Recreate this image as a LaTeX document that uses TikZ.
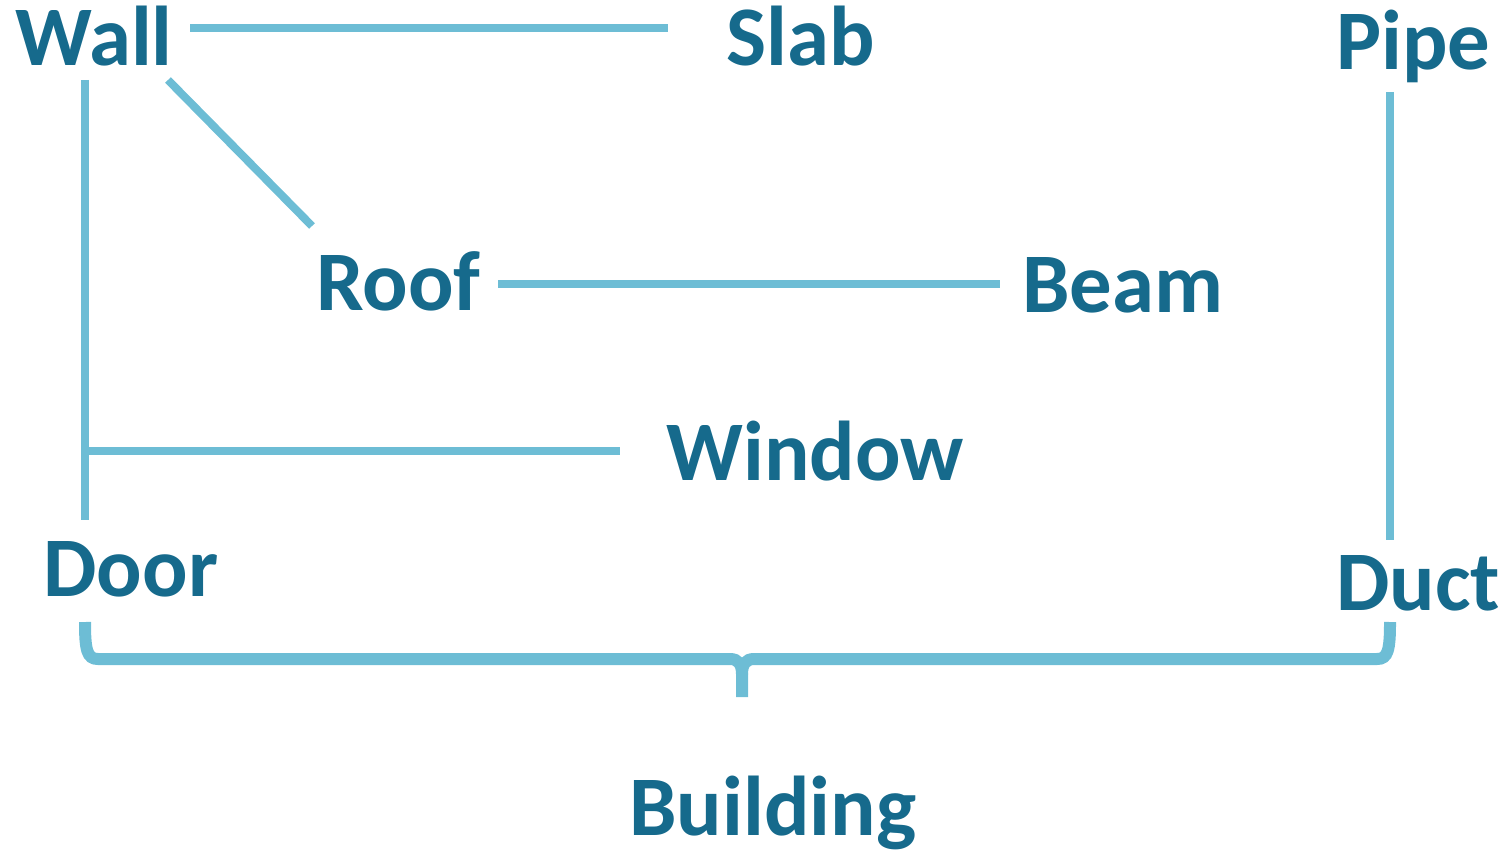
\documentclass[tikz,border=0pt]{standalone}
\usepackage{fontspec}
\setmainfont{Carlito}
\usepackage{xcolor}
\usepackage{tikz}

\definecolor{labelblue}{HTML}{166A8C}
\definecolor{linkblue}{HTML}{6DBDD5}

\begin{document}
\begin{tikzpicture}[x=0.5pt, y=-0.5pt,
                    part/.style={anchor=base west, inner sep=0pt,
                    text=labelblue,
                    font=\fontsize{42.4}{48}\selectfont\bfseries},
                    link/.style={draw=linkblue, line width=4pt},
                    brace/.style={draw=linkblue, line width=6pt}]
    \useasboundingbox (0,0) rectangle (1508,855);
    % labels
    \node[part] (wall)     at (15,66)   {Wall};
    \node[part] (slab)     at (726,66)  {Slab};
    \node[part] (pipe)     at (1336,70) {Pipe};
    \node[part] (roof)     at (316,311) {Roof};
    \node[part] (beam)     at (1022,313) {Beam};
    \node[part] (window)   at (666,480) {Window};
    \node[part] (door)     at (43,596)  {Door};
    \node[part] (duct)     at (1336,610) {Duct};
    \node[part] (building) at (629,835) {Building};
    % connector ends
    \coordinate (wall-r)   at (190,28);
    \coordinate (slab-l)   at (668,28);
    \coordinate (wall-b)   at (85,80);
    \coordinate (door-t)   at (85,520);
    \coordinate (wall-d)   at (168,80);
    \coordinate (roof-t)   at (312,226);
    \coordinate (win-j)    at (85,451);
    \coordinate (window-l) at (620,451);
    \coordinate (roof-r)   at (498,284);
    \coordinate (beam-l)   at (1000,284);
    \coordinate (pipe-b)   at (1390,92);
    \coordinate (duct-t)   at (1390,540);
    \draw[link] (wall-r) -- (slab-l);
    \draw[link] (wall-b) -- (door-t);
    \draw[link] (wall-d) -- (roof-t);
    \draw[link] (win-j) -- (window-l);
    \draw[link] (roof-r) -- (beam-l);
    \draw[link] (pipe-b) -- (duct-t);
    % brace
    \coordinate (brace-l) at (85,622);
    \coordinate (brace-m) at (742,697);
    \coordinate (brace-r) at (1390,622);
    \draw[brace] (brace-l) .. controls (85,650) and (87,659) .. (98,659) -- (730,659)
        .. controls (738,659) and (742,664) .. (742,674) -- (brace-m);
    \draw[brace] (742,674) .. controls (742,664) and (746,659) .. (754,659) -- (1377,659)
        .. controls (1388,659) and (1390,650) .. (brace-r);
\end{tikzpicture}
\end{document}
